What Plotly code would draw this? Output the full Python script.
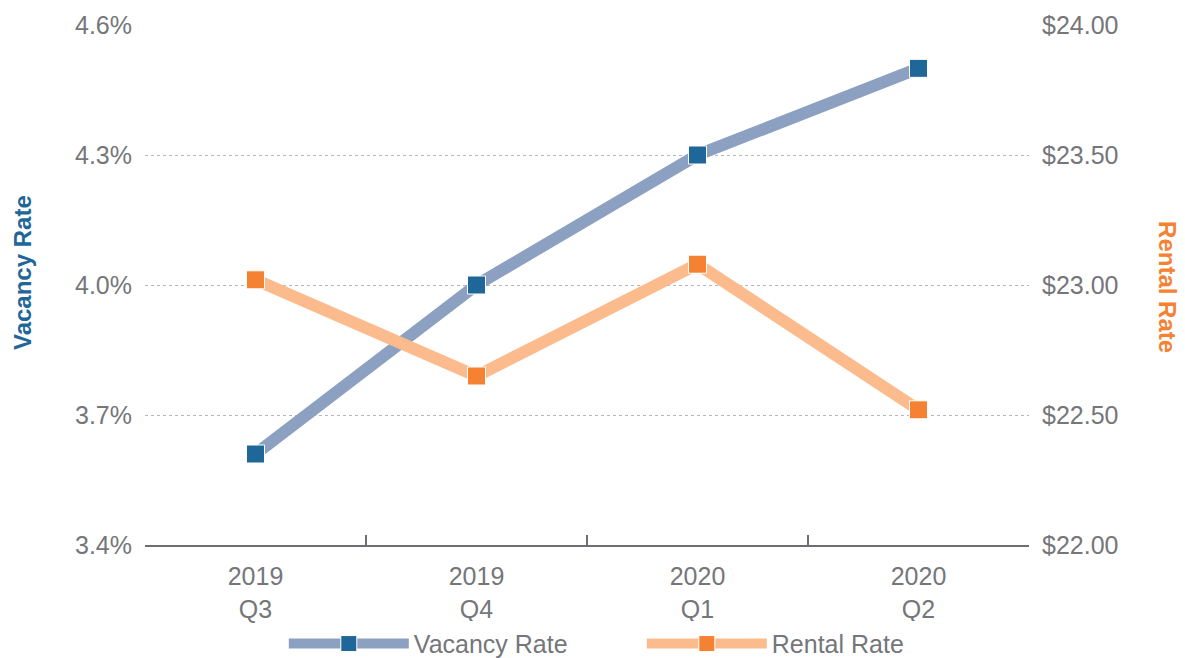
import plotly.graph_objects as go

quarters = ["2019<br>Q3", "2019<br>Q4", "2020<br>Q1", "2020<br>Q2"]
vacancy_rate = [3.61, 4.00, 4.30, 4.50]
rental_rate = [23.02, 22.65, 23.08, 22.52]

left_ticks = [3.4, 3.7, 4.0, 4.3, 4.6]
left_labels = ["3.4%", "3.7%", "4.0%", "4.3%", "4.6%"]
right_ticks = [22.0, 22.5, 23.0, 23.5, 24.0]
right_labels = ["$22.00", "$22.50", "$23.00", "$23.50", "$24.00"]

xpos = list(range(len(quarters)))
boundaries = [i + 0.5 for i in xpos[:-1]]

GRAY = "#75767a"
AXIS = "#6d6e71"
FONT = "Liberation Sans, Arial, sans-serif"
FS = 25

fig = go.Figure()
fig.add_trace(go.Scatter(
    x=xpos, y=vacancy_rate, name="Vacancy Rate", mode="lines+markers",
    line=dict(color="#8ca0c2", width=12),
    marker=dict(symbol="square", size=18, color="#1f6699", line=dict(color="white", width=1)),
    yaxis="y",
))
fig.add_trace(go.Scatter(
    x=xpos, y=rental_rate, name="Rental Rate", mode="lines+markers",
    line=dict(color="#fbbb8d", width=12),
    marker=dict(symbol="square", size=18, color="#f58233", line=dict(color="white", width=1)),
    yaxis="y2",
))

fig.update_layout(
    width=1185, height=658,
    margin=dict(l=145, r=156, t=25, b=113, autoexpand=False),
    paper_bgcolor="white", plot_bgcolor="white",
    font=dict(family=FONT, size=FS, color=GRAY),
    showlegend=True,
    legend=dict(orientation="h", x=0.562, xanchor="center", y=-0.19, yanchor="middle",
                font=dict(size=FS, color=GRAY), itemwidth=120,
                entrywidth=223, entrywidthmode="pixels"),
    xaxis=dict(
        range=[-0.5, 3.5], tickmode="array", tickvals=xpos, ticktext=quarters,
        ticks="", showgrid=False, zeroline=False,
        showline=True, linecolor=AXIS, linewidth=2,
        tickfont=dict(size=FS, color=GRAY), ticklabelstandoff=8,
        minor=dict(tickmode="array", tickvals=boundaries, ticks="inside",
                   ticklen=10, tickwidth=2, tickcolor=AXIS, showgrid=False),
    ),
    yaxis=dict(
        range=[3.4, 4.6], tickmode="array", tickvals=left_ticks, ticktext=left_labels,
        ticks="",
        showgrid=True, gridcolor="#b5b5b5", griddash="dot", gridwidth=1,
        zeroline=False, showline=False,
        tickfont=dict(size=FS, color=GRAY), ticklabelstandoff=12,
    ),
    yaxis2=dict(
        range=[22.0, 24.0], tickmode="array", tickvals=right_ticks, ticktext=right_labels,
        ticks="",
        overlaying="y", side="right", showgrid=False, zeroline=False, showline=False,
        tickfont=dict(size=FS, color=GRAY), ticklabelstandoff=12,
    ),
    annotations=[
        dict(text="<b>Vacancy Rate</b>", xref="paper", yref="paper", x=0, y=0.523,
             xshift=-123, xanchor="center", yanchor="middle", textangle=-90,
             showarrow=False, font=dict(family=FONT, size=24, color="#1f6699")),
        dict(text="<b>Rental Rate</b>", xref="paper", yref="paper", x=1, y=0.496,
             xshift=139, xanchor="center", yanchor="middle", textangle=90,
             showarrow=False, font=dict(family=FONT, size=24, color="#f58233")),
    ],
)

fig.write_html("out.html")
